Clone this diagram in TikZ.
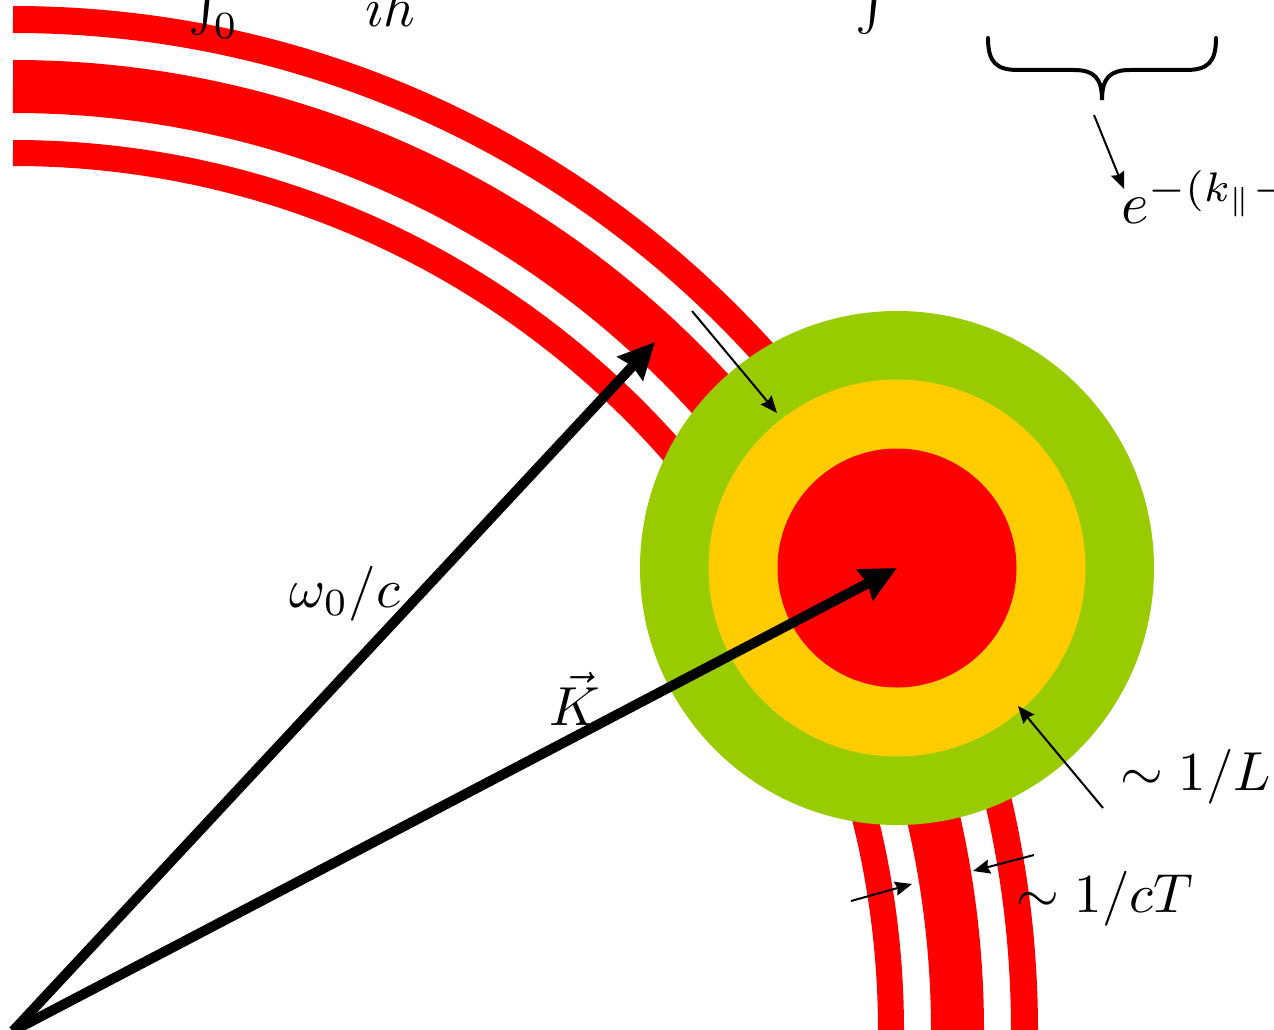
\documentclass[tikz,border=0pt]{standalone}
\usepackage{amsmath}
\usetikzlibrary{arrows.meta}
\definecolor{ringgreen}{HTML}{99CC00}
\definecolor{ringyellow}{HTML}{FFCC00}
\definecolor{bandred}{HTML}{FF0000}
\begin{document}
\begin{tikzpicture}[x=1pt,y=-1pt,
  band/.style={draw=bandred, line cap=butt},
  bigarrow/.style={line width=10pt, -{Stealth[length=36pt,width=34pt,inset=3pt]}},
  thinarrow/.style={line width=2pt, -{Stealth[length=17pt,width=14pt,inset=2pt]}},
  bracestyle/.style={line width=4pt, line cap=round},
  lab/.style={inner sep=0pt, outer sep=0pt, scale=5.5}]
\useasboundingbox (0,0) rectangle (1274,1030);
\clip (0,0) rectangle (1274,1030);
% centres
\coordinate (O) at (13,1031);
\coordinate (C) at (897,568);
\coordinate (W) at (655,342);
% red bands
\draw[band, line width=26pt] (O) ++(878,0) arc[start angle=0, end angle=-90, radius=878];
\draw[band, line width=53pt] (O) ++(944.5,0) arc[start angle=0, end angle=-90, radius=944.5];
\draw[band, line width=27pt] (O) ++(1011.5,0) arc[start angle=0, end angle=-90, radius=1011.5];
% rings
\fill[ringgreen] (C) circle[radius=257];
\fill[ringyellow] (C) circle[radius=188.5];
\fill[bandred] (C) circle[radius=119.5];
% big arrows
\draw[bigarrow] (O) -- (W);
\draw[bigarrow] (O) -- (C);
% thin arrows
\coordinate (La1) at (692,311);
\coordinate (La2) at (777,413);
\coordinate (Lb1) at (1103,808);
\coordinate (Lb2) at (1018,706);
\coordinate (Ta1) at (851,901);
\coordinate (Ta2) at (912,884);
\coordinate (Tb1) at (1034,855);
\coordinate (Tb2) at (973,871);
\coordinate (Br1) at (1094,115);
\coordinate (Br2) at (1124,189);
\draw[thinarrow] (La1) -- (La2);
\draw[thinarrow] (Lb1) -- (Lb2);
\draw[thinarrow] (Ta1) -- (Ta2);
\draw[thinarrow] (Tb1) -- (Tb2);
\draw[thinarrow] (Br1) -- (Br2);
% brace
\draw[bracestyle] (988,38) .. controls (988,62) and (996,70) .. (1018,70)
  -- (1074,70) .. controls (1094,70) and (1102,78) .. (1102,100)
  .. controls (1102,78) and (1110,70) .. (1130,70)
  -- (1186,70) .. controls (1208,70) and (1216,62) .. (1216,38);
% labels
\node[lab, anchor=base] (omega) at (345,607) {$\omega_0/c$};
\node[lab, anchor=base] (kvec) at (575,725) {$\vec{K}$};
\node[lab, anchor=base] (invL) at (1196,790) {$\sim 1/L$};
\node[lab, anchor=base] (invcT) at (1105,912) {$\sim 1/cT$};
\node[lab, scale=5.9/5.5, anchor=base west] (expo) at (1121,223) {$e^{-(k_\parallel -}$};
\node[lab, anchor=base west] (int0) at (188,19) {$\int_0$};
\node[lab, anchor=base west] (ihbar) at (365,27) {$i\hbar$};
\node[lab, anchor=base west] (int1) at (855,18) {$\int$};
\end{tikzpicture}
\end{document}
